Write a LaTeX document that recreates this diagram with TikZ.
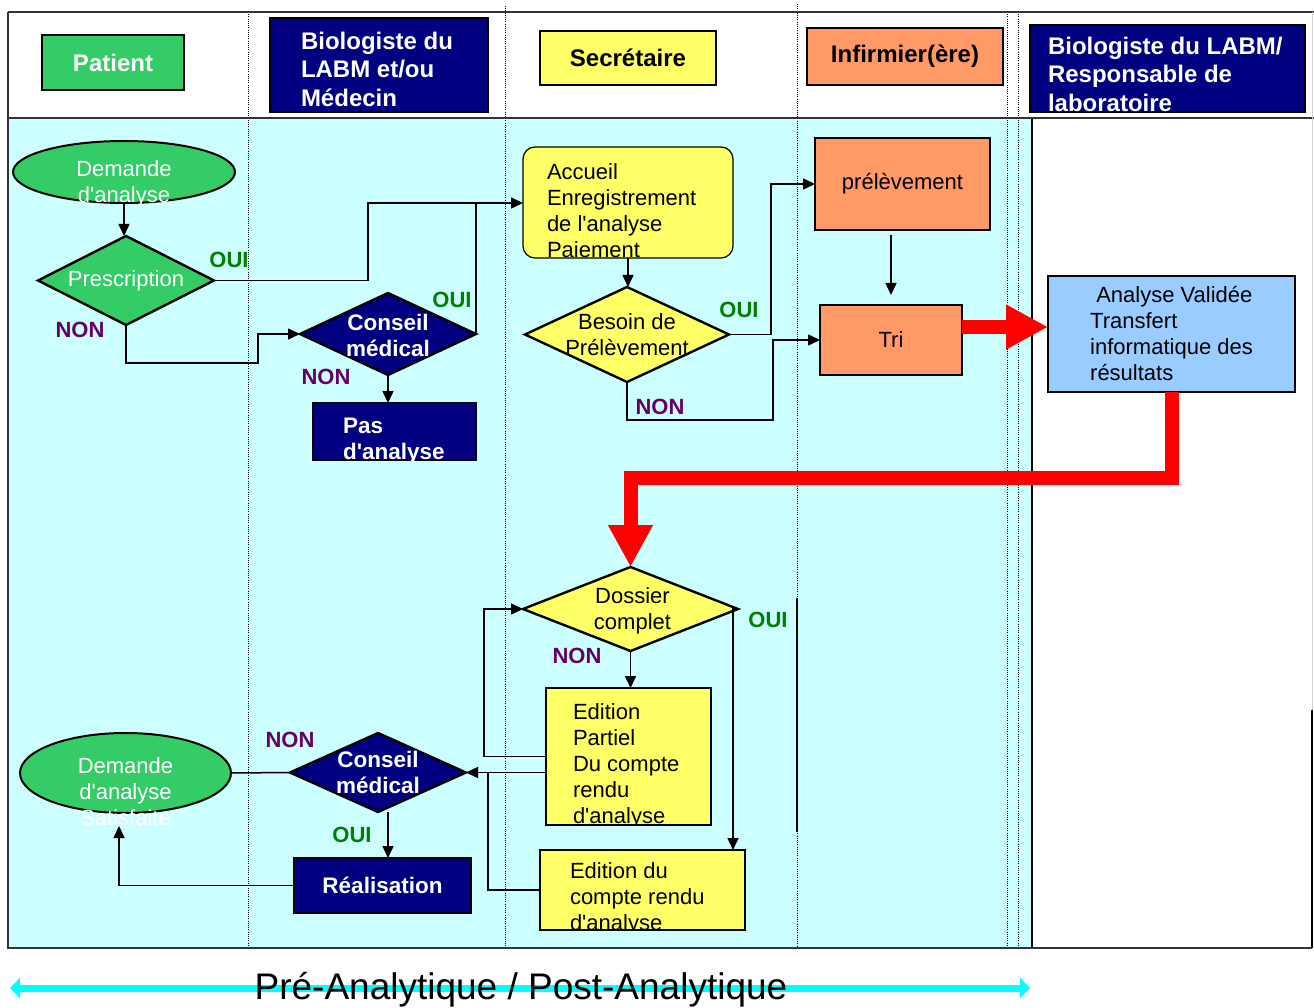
\documentclass[tikz,border=0pt]{standalone}
\usepackage{fontspec}
\setmainfont{Liberation Sans}[Ligatures=TeXOff]
\usetikzlibrary{shapes.geometric,arrows.meta}

\definecolor{grn}{HTML}{33CC66}
\definecolor{navy}{HTML}{000080}
\definecolor{ylw}{HTML}{FFFF66}
\definecolor{salmon}{HTML}{FF9966}
\definecolor{skyb}{HTML}{99CCFF}
\definecolor{lanefill}{HTML}{CCFFFF}
\definecolor{ouigreen}{HTML}{008000}
\definecolor{nonpurple}{HTML}{660066}
\definecolor{framegray}{HTML}{333333}
\definecolor{aqua}{HTML}{00FFFF}

\begin{document}
\begin{tikzpicture}[x=1pt,y=-1pt,
  every node/.style={inner sep=0pt,outer sep=0pt},
  reg/.style={font=\fontsize{22}{26}\selectfont},
  hdr/.style={font=\fontsize{24}{28.5}\selectfont\bfseries},
  bld/.style={font=\fontsize{22.5}{26}\selectfont\bfseries},
  box/.style n args={3}{rectangle,draw=black,line width=1.2pt,fill=#1,minimum width=#2,minimum height=#3},
  dia/.style n args={3}{diamond,draw=black,line width=2.4pt,fill=#1,minimum width=#2,minimum height=#3},
  oval/.style n args={3}{ellipse,draw=black,line width=2pt,fill=#1,minimum width=#2,minimum height=#3},
  boxtext/.style={anchor=base west,align=left},
  oui/.style={text=ouigreen,font=\fontsize{22}{26}\selectfont\bfseries},
  non/.style={text=nonpurple,font=\fontsize{22}{26}\selectfont\bfseries},
  con/.style={draw=black,line width=1.5pt},
  arr/.style={con,-{Triangle[length=12pt,width=11pt]}},
  bigred/.style={draw=red,line width=14pt,line join=miter,-{Triangle[length=42pt,width=42pt]}},
  lanesep/.style={draw=black,line width=0.9pt,dash pattern=on 1pt off 1.2pt},
  framel/.style={draw=framegray,line width=2pt}
]
% page
\fill[white] (0,0) rectangle (1314,1008);
\useasboundingbox (0,0) rectangle (1314,1008);
\fill[lanefill] (8,118) rectangle (1032,948);

% lane separators
\foreach \lx/\ly in {248/12, 505/6, 797/4, 1007/12, 1018/12}
  \draw[lanesep] (\lx,\ly) -- (\lx,948);
\draw[line width=1.6pt] (797,598) -- (797,832);
\draw[line width=1.5pt] (1032,118) -- (1032,948);

% frame
\draw[framel] (8,12) -- (1314,12);
\draw[framel] (8,118) -- (1314,118);
\draw[framel] (8,12) -- (8,948) -- (1312,948);
\draw[draw=gray!35,line width=1pt] (1312,12) -- (1312,710);
\draw[line width=2pt] (1312,710) -- (1312,948);

% lane headers
\node[box={grn}{142}{55},hdr,text=white] (hPat) at (113,62.5) {Patient};
\node[box={navy}{218}{94}] (hBio) at (379,65) {};
\begin{scope}
  \clip (hBio.south west) rectangle (hBio.north east);
  \node[boxtext,hdr,text=white] (hBio-t) at (301,106.5) {Biologiste du\\LABM et/ou\\Médecin};
\end{scope}
\node[box={ylw}{176}{54},hdr] (hSec) at (628,58) {Secrétaire};
\node[box={salmon}{196}{57},hdr] (hInf) at (905,56.5) {Infirmier(ère)};
\node[box={navy}{275}{87}] (hResp) at (1167.5,68.5) {};
\begin{scope}
  \clip (hResp.south west) rectangle (hResp.north east);
  \node[boxtext,hdr,text=white] (hResp-t) at (1048,111.5) {Biologiste du LABM/\\Responsable de\\laboratoire};
\end{scope}

% pre-analytic flow
\node[oval={grn}{222}{62},label={[reg,text=white,align=center,yshift=-11.5pt,name=dem1-t]center:Demande\\d'analyse}] (dem1) at (124,172) {};
\node[dia={grn}{176}{89},label={[reg,text=white,name=presc-t]center:Prescription}] (presc) at (126,280.5) {};
\node[dia={navy}{176}{82},label={[bld,text=white,align=center,yshift=-1pt,name=cons1-t]center:Conseil\\médical}] (cons1) at (388,334) {};
\node[box={navy}{163}{57}] (pas) at (394.5,431.5) {};
\begin{scope}
  \clip (pas.south west) rectangle (pas.north east);
  \node[boxtext,bld,text=white] (pas-t) at (343,459) {Pas\\d'analyse};
\end{scope}
\node[box={ylw}{210}{111},rounded corners=12pt] (acc) at (628,202.5) {};
\begin{scope}
  \clip[rounded corners=12pt] (acc.south west) rectangle (acc.north east);
  \node[boxtext,reg] (acc-t) at (547,258) {Accueil\\Enregistrement\\de l'analyse\\Paiement};
\end{scope}
\node[dia={ylw}{204}{95},label={[reg,align=center,name=bes-t]center:Besoin de\\Prélèvement}] (bes) at (627,334.5) {};
\node[box={salmon}{175}{92},reg] (prel) at (902.5,184) {prélèvement};
\node[box={salmon}{142}{70},reg] (tri) at (891,340) {Tri};
\node[box={skyb}{247}{116},reg,align=left] (ana) at (1171.5,334) {\ Analyse Validée\\Transfert\\informatique des\\résultats};

% post-analytic flow
\node[dia={ylw}{215}{84},label={[reg,align=center,yshift=-2pt,xshift=2pt,name=dos-t]center:Dossier\\complet}] (dos) at (630.5,609) {};
\node[box={ylw}{165}{137}] (edp) at (628.5,756.5) {};
\begin{scope}
  \clip (edp.south west) rectangle (edp.north east);
  \node[boxtext,reg] (edp-t) at (573,823) {Edition\\Partiel\\Du compte\\rendu\\d'analyse};
\end{scope}
\node[box={ylw}{205}{80}] (edc) at (642.5,890) {};
\begin{scope}
  \clip (edc.south west) rectangle (edc.north east);
  \node[boxtext,reg] (edc-t) at (570,930) {Edition du\\compte rendu\\d'analyse};
\end{scope}
\node[dia={navy}{176}{79},label={[bld,text=white,align=center,name=cons2-t]center:Conseil\\médical}] (cons2) at (378,772.5) {};
\node[box={navy}{177}{55},bld,text=white] (real) at (382.5,885.5) {Réalisation};
\node[oval={grn}{211}{80},label={[reg,text=white,align=center,yshift=-19pt,name=dem2-t]center:Demande\\d'analyse\\Satisfaite}] (dem2) at (125.5,773) {};

% decision labels
\node[oui] (o1) at (229,260) {OUI};
\node[non] (n1) at (80,330) {NON};
\node[oui] (o2) at (452,300) {OUI};
\node[non] (n2) at (326,377) {NON};
\node[oui] (o3) at (739,310) {OUI};
\node[non] (n3) at (660,407) {NON};
\node[oui] (o4) at (768,620) {OUI};
\node[non] (n4) at (577,656) {NON};
\node[non] (n5) at (290,740) {NON};
\node[oui] (o5) at (352,835) {OUI};

% connectors
\draw[arr] (dem1.south) -- (dem1.south |- presc.north);
\coordinate (j1) at (368,203);
\draw[arr] (presc.east) -| (j1) -- (j1 -| acc.west);
\draw[con] (cons1.east) -- (cons1.east |- j1);
\coordinate (j2) at (258,363);
\draw[arr] (presc.south) |- (j2) |- (cons1.west);
\draw[arr] (cons1.south) -- (cons1.south |- pas.north);
\draw[arr] (acc.south) -- (acc.south |- bes.north);
\coordinate (j3) at (771,184);
\draw[arr] (bes.east) -| (j3) -- (prel.west);
\coordinate (j4) at (773,420);
\draw[arr] (bes.south) |- (j4) |- (tri.west);
\draw[arr,shorten <=5pt,shorten >=10pt] (prel.south -| tri.north) -- (tri.north);

\coordinate (r1) at ([yshift=13pt]tri.east);
\draw[bigred] (r1) -- (r1 -| ana.west);
\coordinate (j5) at (630.5,478);
\draw[bigred] (ana.south) |- (j5) -- (dos.north);

\draw[arr] (dos.south) -- (dos.south |- edp.north);
\coordinate (j6) at (733,609);
\draw[arr] (dos.east) -- (j6) -- (j6 |- edc.north);
\coordinate (j7) at (484,609);
\draw[arr] (edp.west) -| (j7) -- (dos.west);
\draw[arr] (edp.west |- cons2.east) -- (cons2.east);
\coordinate (j8) at (488,772.5);
\draw[con] (edc.west) -| (j8);
\draw[con] (dem2.east) -- (cons2.west);
\coordinate (k1) at ([xshift=10pt]cons2.south);
\draw[arr] (k1) -- (k1 |- real.north);
\coordinate (j9) at (119,885.5);
\draw[arr,shorten >=13pt] (real.west) -- (j9) -- (j9 |- dem2.south);

% phase arrow
\coordinate (bL) at (10,988);
\coordinate (bR) at (1030,988);
\draw[aqua,line width=7pt,{Triangle[length=10pt,width=20pt]}-{Triangle[length=10pt,width=20pt]}] (bL) -- (bR);
\node[font=\fontsize{37}{40}\selectfont,anchor=base] (phase) at (521,999) {Pré-Analytique / Post-Analytique};
\end{tikzpicture}
\end{document}
